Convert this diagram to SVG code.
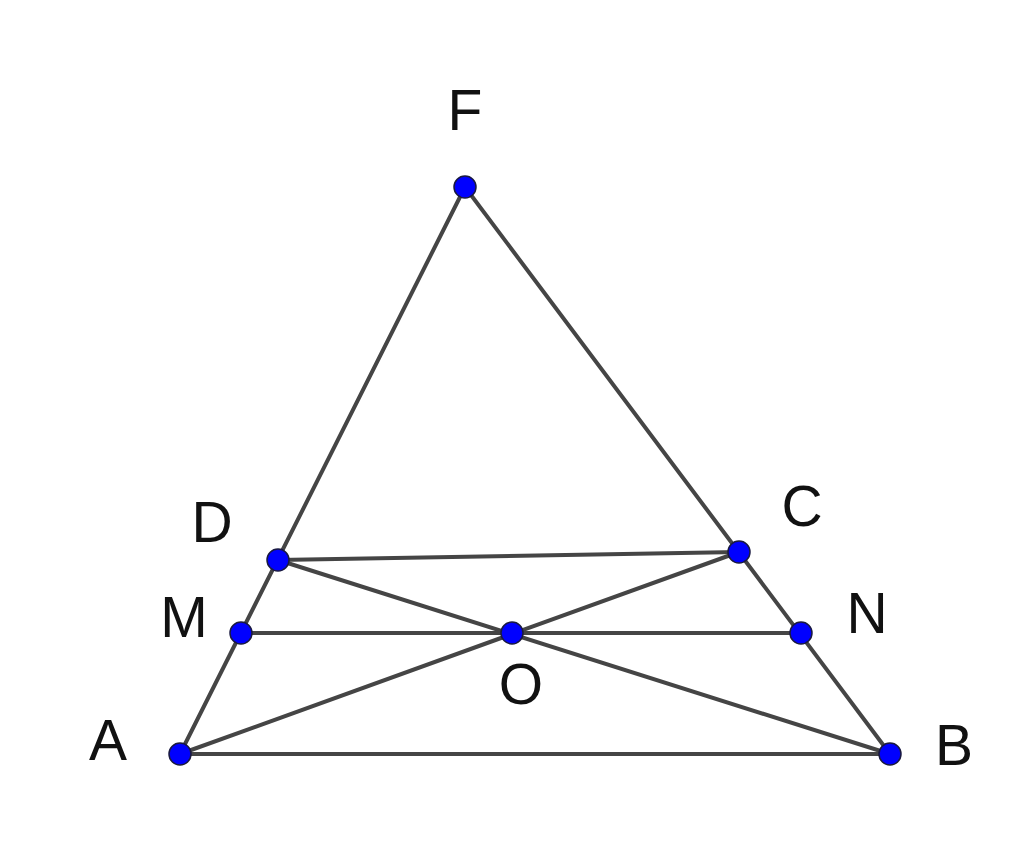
<svg xmlns="http://www.w3.org/2000/svg" width="1024" height="848" viewBox="0 0 1024 848">
<style>
.seg{stroke:#454545;stroke-width:4;stroke-linecap:round;fill:none}
.pt{fill:#0000ff;stroke:#1a1a40;stroke-width:1.5}
.lbl{font-family:"Liberation Sans",Arial,sans-serif;font-size:57px;fill:#111;text-anchor:middle}
</style>
<rect width="1024" height="848" fill="#ffffff"/>
<g id="connectors">
<line class="seg" x1="180" y1="754" x2="890" y2="754"/>
<line class="seg" x1="180" y1="754" x2="465" y2="187"/>
<line class="seg" x1="465" y1="187" x2="890" y2="754"/>
<line class="seg" x1="278" y1="560" x2="739" y2="552"/>
<line class="seg" x1="241" y1="633" x2="801" y2="633"/>
<line class="seg" x1="180" y1="754" x2="739" y2="552"/>
<line class="seg" x1="278" y1="560" x2="890" y2="754"/>
</g>
<g id="F"><circle class="pt" cx="465" cy="187" r="11"/><text class="lbl" x="465" y="130">F</text></g>
<g id="D"><circle class="pt" cx="278" cy="560" r="11"/><text class="lbl" x="212" y="542">D</text></g>
<g id="C"><circle class="pt" cx="739" cy="552" r="11"/><text class="lbl" x="802" y="526">C</text></g>
<g id="M"><circle class="pt" cx="241" cy="633" r="11"/><text class="lbl" x="184" y="637">M</text></g>
<g id="N"><circle class="pt" cx="801" cy="633" r="11"/><text class="lbl" x="867" y="633">N</text></g>
<g id="O"><circle class="pt" cx="512" cy="633" r="11"/><text class="lbl" x="521" y="704">O</text></g>
<g id="A"><circle class="pt" cx="180" cy="754" r="11"/><text class="lbl" x="108" y="760">A</text></g>
<g id="B"><circle class="pt" cx="890" cy="754" r="11"/><text class="lbl" x="954" y="765">B</text></g>
</svg>
